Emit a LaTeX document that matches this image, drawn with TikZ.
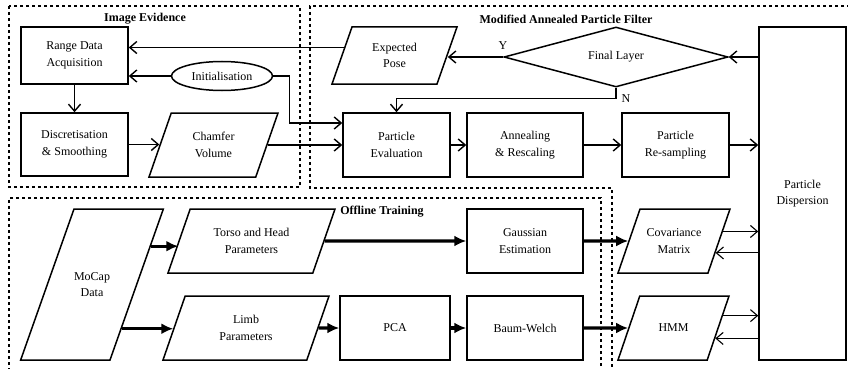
\documentclass[tikz,border=0pt]{standalone}
\usepackage{fontspec}
\setmainfont{Liberation Serif}
\usetikzlibrary{shapes.geometric,arrows.meta}

\begin{document}
\begin{tikzpicture}[x=1pt,y=-1pt,
    every node/.style={font=\fontsize{12}{16.5}\selectfont,align=center},
    box/.style={rectangle,draw,line width=1.5pt,inner sep=0pt},
    para/.style={trapezium,trapezium left angle=70,trapezium right angle=110,
        trapezium stretches body,draw,line width=1.5pt,inner xsep=0pt,inner ysep=18pt},
    arr/.style={-{Straight Barb[length=7pt,width=12pt]},line width=1.4pt},
    thk/.style={-{Latex[length=12pt,width=11pt]},line width=3.2pt},
    grp/.style={line width=1.4pt,dash pattern=on 3.3pt off 2.7pt},
    grptitle/.style={font=\bfseries\fontsize{12}{16.5}\selectfont}]
\useasboundingbox (0,0) rectangle (848,369);

% groups
\draw[grp] (9,6) rectangle (300,187);
\draw[grp] (850,6) -- (310,6) -- (310,188) -- (612,188) -- (612,372);
\draw[grp] (601,372) -- (601,198) -- (9,198) -- (9,372);
\node[grptitle] (t-image) at (145,19) {Image Evidence};
\node[grptitle] (t-filter) at (566,19) {Modified Annealed Particle Filter};
\node[grptitle] (t-offline) at (382,212) {Offline Training};

% image evidence
\node[box,minimum width=107pt,minimum height=57pt] (range) at (74.5,55.5) {Range Data\\Acquisition};
\node[box,minimum width=107pt,minimum height=63pt] (disc) at (74.5,144.5) {Discretisation\\\& Smoothing};
\node[ellipse,draw,line width=1.5pt,inner sep=0pt,minimum width=101pt,minimum height=29pt] (init) at (222,76) {Initialisation};
\node[para,minimum width=129pt,minimum height=64pt] (chamfer) at (213.5,145) {Chamfer\\Volume};

% filter
\node[para,inner ysep=15pt,minimum width=125pt,minimum height=57pt] (pose) at (394.5,55.5) {Expected\\Pose};
\node[diamond,draw,line width=1.5pt,inner sep=0pt,aspect=3.7,minimum width=224pt,minimum height=60pt] (final) at (616,57) {Final Layer};
\node[box,minimum width=107pt,minimum height=64pt] (eval) at (396.5,145) {Particle\\Evaluation};
\node[box,minimum width=116pt,minimum height=64pt] (anneal) at (525,145) {Annealing\\\& Rescaling};
\node[box,minimum width=107pt,minimum height=64pt] (resample) at (675.5,145) {Particle\\Re-sampling};
\node[box,minimum width=87pt,minimum height=333pt] (disp) at (802.5,193.5) {Particle\\Dispersion};
\node (ylab) at (503,46) {Y};
\node (nlab) at (626,99) {N};

% offline training
\node[para,inner ysep=61pt,minimum width=142pt,minimum height=151pt] (mocap) at (92,284.5) {MoCap\\Data};
\node[para,minimum width=167pt,minimum height=64pt] (torso) at (251.5,241) {Torso and Head\\Parameters};
\node[para,minimum width=166pt,minimum height=64pt] (limb) at (246,328) {Limb\\Parameters};
\node[box,minimum width=116pt,minimum height=64pt] (gauss) at (525,241) {Gaussian\\Estimation};
\node[box,minimum width=110pt,minimum height=64pt] (pca) at (395,328) {PCA};
\node[box,minimum width=116pt,minimum height=64pt] (baum) at (525,328) {Baum-Welch};
\node[para,minimum width=112pt,minimum height=64pt] (cov) at (674,241) {Covariance\\Matrix};
\node[para,inner ysep=26pt,minimum width=111pt,minimum height=64pt] (hmm) at (673.5,328) {HMM};

\draw[arr] (pose.171) -- (range.east |- pose.171);
\draw[arr] (init.west) -- (range.east |- init.west);
\draw[arr] (range.south) -- (disc.north);
\draw[arr] (disc.east) -- (disc.east -| chamfer.west);
\draw[arr] (chamfer.east) -- (eval.west);
\draw[arr] (init.east) -- ++(16,0) |- ([yshift=22pt]eval.west);
\draw[arr] (final.west) -- (pose.east |- final.west);
\draw[arr] (final.south) -- ++(0,11) -| (eval.north);
\draw[arr] (eval.east) -- (anneal.west);
\draw[arr] (anneal.east) -- (resample.west);
\draw[arr] (resample.east) -- (disp.west |- resample.east);
\draw[arr] (disp.west |- final.east) -- (final.east);

\draw[thk] (mocap.33) -- (mocap.33 -| torso.west);
\draw[thk] (mocap.-56) -- (mocap.-56 -| limb.west);
\draw[thk] (torso.east) -- (gauss.west);
\draw[thk] (limb.east) -- (pca.west);
\draw[thk] (pca.east) -- (baum.west);
\draw[thk] (gauss.east) -- (cov.west);
\draw[thk] (baum.east) -- (hmm.west);

\draw[arr,line width=1.1pt] (cov.11) -- (cov.11 -| disp.west);
\draw[arr,line width=1.1pt] (disp.west |- cov.-16) -- (cov.-16);
\draw[arr,line width=1.1pt] (hmm.14) -- (hmm.14 -| disp.west);
\draw[arr,line width=1.1pt] (disp.west |- hmm.-14) -- (hmm.-14);
\end{tikzpicture}
\end{document}
